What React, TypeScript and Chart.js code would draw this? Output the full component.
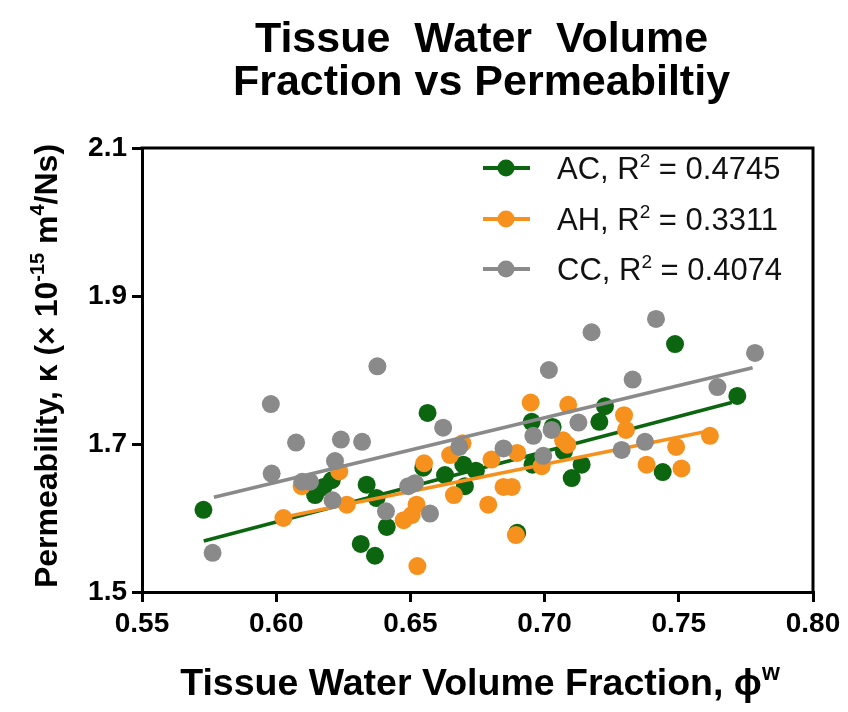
import React, { useEffect, useRef } from "react";
import { Chart, registerables } from "chart.js";

Chart.register(...registerables);

// Tissue water volume fraction (x) and permeability (y), per tissue group
const acX = [0.5729, 0.6145, 0.6176, 0.6207, 0.6337, 0.6315, 0.6368, 0.6374, 0.6412, 0.6548, 0.6564, 0.6629, 0.6697, 0.6703, 0.6744, 0.6898, 0.6952, 0.6955, 0.703, 0.7072, 0.7101, 0.7138, 0.7204, 0.7225, 0.744, 0.7486, 0.7718];
const acY = [1.611, 1.631, 1.642, 1.651, 1.645, 1.565, 1.549, 1.627, 1.588, 1.668, 1.742, 1.658, 1.672, 1.643, 1.664, 1.58, 1.73, 1.672, 1.723, 1.69, 1.654, 1.672, 1.73, 1.751, 1.662, 1.835, 1.765];

const ahX = [0.6027, 0.6235, 0.6263, 0.6095, 0.6475, 0.6505, 0.6523, 0.6526, 0.6551, 0.6648, 0.6662, 0.6694, 0.679, 0.6802, 0.6847, 0.6878, 0.6893, 0.6898, 0.6948, 0.6989, 0.7069, 0.7085, 0.7088, 0.7296, 0.7303, 0.738, 0.749, 0.751, 0.7616];
const ahY = [1.6, 1.663, 1.618, 1.643, 1.597, 1.604, 1.618, 1.535, 1.674, 1.685, 1.631, 1.701, 1.618, 1.679, 1.642, 1.642, 1.577, 1.688, 1.756, 1.67, 1.705, 1.699, 1.753, 1.739, 1.719, 1.672, 1.696, 1.667, 1.711];

const ccX = [0.5763, 0.598, 0.5983, 0.6074, 0.6097, 0.6126, 0.621, 0.6219, 0.6241, 0.632, 0.6377, 0.6409, 0.6492, 0.6517, 0.6573, 0.6622, 0.6682, 0.6847, 0.6958, 0.6995, 0.7016, 0.7026, 0.7126, 0.7175, 0.7287, 0.7328, 0.7374, 0.7415, 0.7644, 0.7784];
const ccY = [1.553, 1.754, 1.66, 1.702, 1.649, 1.649, 1.624, 1.677, 1.706, 1.703, 1.805, 1.609, 1.643, 1.647, 1.606, 1.722, 1.696, 1.694, 1.711, 1.684, 1.8, 1.719, 1.729, 1.851, 1.692, 1.787, 1.703, 1.869, 1.777, 1.823];

// Linear fit end points for each group
const acFitX = [0.573, 0.7697];
const acFitY = [1.569, 1.756];
const ahFitX = [0.6027, 0.7616];
const ahFitY = [1.601, 1.718];
const ccFitX = [0.5768, 0.7775];
const ccFitY = [1.628, 1.803];

// Legend entries
const groupNames = ["AC", "AH", "CC"];
const rSquared = ["0.4745", "0.3311", "0.4074"];
const groupColors = ["#0b660f", "#f7911e", "#8a8a8a"];

const xTicks = [0.55, 0.6, 0.65, 0.7, 0.75, 0.8];
const yTicks = [1.5, 1.7, 1.9, 2.1];

const FONT = "'Liberation Sans', Arial, Helvetica, sans-serif";

type Seg = { t: string; sup?: boolean };

function segFont(size: number, weight: string, sup?: boolean) {
  const s = sup ? Math.round(size * 0.62) : size;
  return `${weight} ${s}px ${FONT}`;
}

function richWidth(ctx: CanvasRenderingContext2D, segs: Seg[], size: number, weight: string) {
  let w = 0;
  for (const s of segs) {
    ctx.font = segFont(size, weight, s.sup);
    w += ctx.measureText(s.t).width;
  }
  return w;
}

// Draws a line of text with superscript pieces, starting at x on baseline y
function drawRich(ctx: CanvasRenderingContext2D, segs: Seg[], x: number, y: number, size: number, weight: string) {
  let cx = x;
  ctx.textAlign = "left";
  ctx.textBaseline = "alphabetic";
  for (const s of segs) {
    ctx.font = segFont(size, weight, s.sup);
    ctx.fillText(s.t, cx, s.sup ? y - size * 0.4 : y);
    cx += ctx.measureText(s.t).width;
  }
}

const pts = (xs: number[], ys: number[]) => xs.map((x, i) => ({ x, y: ys[i] }));

const decorations = {
  id: "decorations",
  afterDraw(chart: any) {
    const ctx: CanvasRenderingContext2D = chart.ctx;
    const { left, right, top, bottom } = chart.chartArea;
    ctx.save();

    // top and right frame lines
    ctx.strokeStyle = "#000";
    ctx.lineWidth = 3;
    ctx.beginPath();
    ctx.moveTo(left - 1.5, top);
    ctx.lineTo(right, top);
    ctx.lineTo(right, bottom + 1.5);
    ctx.stroke();

    // title
    ctx.fillStyle = "#000";
    ctx.textAlign = "center";
    ctx.textBaseline = "alphabetic";
    ctx.font = `bold 43px ${FONT}`;
    const cx = (left + right) / 2 + 4;
    ctx.fillText("Tissue  Water  Volume", cx, 52);
    ctx.fillText("Fraction vs Permeabiltiy", cx, 95);

    // x axis title
    const xSegs: Seg[] = [{ t: "Tissue Water Volume Fraction, \u03d5" }, { t: "w", sup: true }];
    const xw = richWidth(ctx, xSegs, 37.5, "bold");
    drawRich(ctx, xSegs, 480 - xw / 2, 695, 37.5, "bold");

    // y axis title
    const ySegs: Seg[] = [
      { t: "Permeability, \u03ba (\u00d7 10" },
      { t: "-15", sup: true },
      { t: " m" },
      { t: "4", sup: true },
      { t: "/Ns)" },
    ];
    const yw = richWidth(ctx, ySegs, 32, "bold");
    ctx.save();
    ctx.translate(57, (top + bottom) / 2 - 4);
    ctx.rotate(-Math.PI / 2);
    drawRich(ctx, ySegs, -yw / 2, 0, 32, "bold");
    ctx.restore();

    // legend
    const rows = [168, 219, 269];
    groupNames.forEach((name, i) => {
      const y = rows[i];
      ctx.strokeStyle = groupColors[i];
      ctx.lineWidth = 4;
      ctx.beginPath();
      ctx.moveTo(483, y);
      ctx.lineTo(530, y);
      ctx.stroke();
      ctx.fillStyle = groupColors[i];
      ctx.beginPath();
      ctx.arc(506, y, 8.5, 0, Math.PI * 2);
      ctx.fill();
      ctx.fillStyle = "#111";
      drawRich(
        ctx,
        [{ t: `${name}, R` }, { t: "2", sup: true }, { t: ` = ${rSquared[i]}` }],
        557,
        y + 11,
        31,
        "normal"
      );
    });

    ctx.restore();
  },
};

export default function App() {
  const canvasRef = useRef<HTMLCanvasElement | null>(null);

  useEffect(() => {
    const canvas = canvasRef.current;
    if (!canvas) return;

    const scatterSet = (data: any[], color: string, order: number) => ({
      type: "scatter" as const,
      data,
      backgroundColor: color,
      borderColor: color,
      borderWidth: 0,
      pointRadius: 9,
      pointHoverRadius: 9,
      showLine: false,
      order,
    });
    const fitSet = (data: any[], color: string, order: number) => ({
      type: "scatter" as const,
      data,
      borderColor: color,
      backgroundColor: color,
      borderWidth: 3.5,
      pointRadius: 0,
      showLine: true,
      order,
    });

    const chart = new Chart(canvas, {
      type: "scatter",
      data: {
        datasets: [
          scatterSet(pts(acX, acY), groupColors[0], 6),
          fitSet(pts(acFitX, acFitY), groupColors[0], 5),
          scatterSet(pts(ahX, ahY), groupColors[1], 4),
          fitSet(pts(ahFitX, ahFitY), groupColors[1], 3),
          scatterSet(pts(ccX, ccY), groupColors[2], 2),
          fitSet(pts(ccFitX, ccFitY), groupColors[2], 1),
        ],
      },
      options: {
        responsive: false,
        animation: false,
        devicePixelRatio: 1,
        layout: { padding: { left: 0, right: 35, top: 148, bottom: 0 } },
        plugins: {
          legend: { display: false },
          title: { display: false },
          tooltip: { enabled: false },
        },
        scales: {
          x: {
            type: "linear",
            min: xTicks[0],
            max: xTicks[xTicks.length - 1],
            afterBuildTicks: (scale: any) => {
              scale.ticks = xTicks.map((v) => ({ value: v }));
            },
            afterFit: (scale: any) => {
              scale.height = 120;
            },
            border: { display: true, color: "#000", width: 3 },
            grid: {
              display: true,
              drawOnChartArea: false,
              drawTicks: true,
              tickLength: 10,
              tickWidth: 3,
              color: "#000",
              lineWidth: 3,
            },
            ticks: {
              color: "#000",
              padding: 5,
              font: { family: FONT, size: 28, weight: "bold" },
              callback: (v: any) => Number(v).toFixed(2),
              maxRotation: 0,
            },
          },
          y: {
            type: "linear",
            min: yTicks[0],
            max: yTicks[yTicks.length - 1],
            afterBuildTicks: (scale: any) => {
              scale.ticks = yTicks.map((v) => ({ value: v }));
            },
            afterFit: (scale: any) => {
              scale.width = 142;
            },
            border: { display: true, color: "#000", width: 3 },
            grid: {
              display: true,
              drawOnChartArea: false,
              drawTicks: true,
              tickLength: 10,
              tickWidth: 3,
              color: "#000",
              lineWidth: 3,
            },
            ticks: {
              color: "#000",
              padding: 5,
              font: { family: FONT, size: 28, weight: "bold" },
              callback: (v: any) => Number(v).toFixed(1),
            },
          },
        },
      },
      plugins: [decorations],
    } as any);

    return () => chart.destroy();
  }, []);

  return (
    <div style={{ position: "fixed", left: 0, top: 0, width: 848, height: 712, background: "#fff" }}>
      <canvas ref={canvasRef} width={848} height={712} style={{ width: 848, height: 712, display: "block" }} />
    </div>
  );
}
